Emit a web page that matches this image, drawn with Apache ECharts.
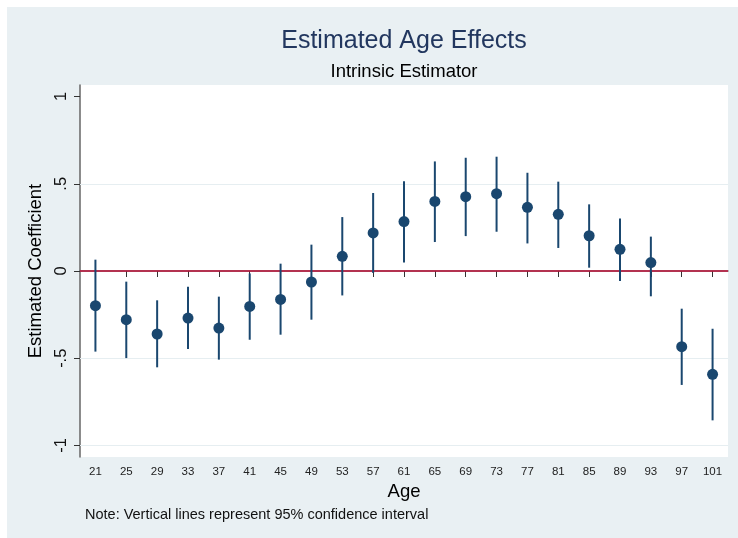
<!DOCTYPE html>
<html>
<head>
<meta charset="utf-8">
<script src="https://cdn.jsdelivr.net/npm/echarts@6/dist/echarts.min.js"></script>
<style>
html,body{margin:0;padding:0;background:#fff;}
#chart{width:738px;height:538px;}
</style>
</head>
<body>
<div id="chart"></div>
<script>
const ages = ['21','25','29','33','37','41','45','49','53','57','61','65','69','73','77','81','85','89','93','97','101'];
const estimates = [-0.199,-0.279,-0.361,-0.270,-0.327,-0.203,-0.163,-0.063,0.084,0.218,0.283,0.399,0.426,0.443,0.365,0.325,0.202,0.124,0.048,-0.434,-0.592];
const ciUpper = [0.065,-0.061,-0.168,-0.090,-0.147,-0.014,0.042,0.151,0.309,0.447,0.514,0.628,0.649,0.655,0.563,0.512,0.382,0.301,0.197,-0.216,-0.331];
const ciLower = [-0.462,-0.499,-0.552,-0.447,-0.508,-0.394,-0.365,-0.279,-0.140,-0.011,0.049,0.166,0.200,0.225,0.158,0.132,0.019,-0.057,-0.145,-0.653,-0.856];
const yTicks = [-1,-0.5,0,0.5,1];
const gridValues = [-1,-0.5,0.5];

const FONT = '"Liberation Sans", Arial, sans-serif';
const NAVY = '#1a476f';

const chart = echarts.init(document.getElementById('chart'));
const fmt = v => {
  if (Math.abs(v) < 1e-9) return '0';
  let s = String(+v.toFixed(2));
  return s.replace(/^(-?)0\./, '$1.');
};

chart.setOption({
  animation: false,
  backgroundColor: '#ffffff',
  textStyle: { fontFamily: FONT },
  graphic: [
    { type: 'rect', z: -10, silent: true, shape: { x: 7, y: 7, width: 731, height: 531 }, style: { fill: '#e9f0f3' } },
    { type: 'text', left: 85, top: 507, style: { text: 'Note: Vertical lines represent 95% confidence interval', font: '14.5px ' + FONT, fill: '#111' } }
  ],
  title: [
    { text: 'Estimated Age Effects', left: 404, top: 29, textAlign: 'center', padding: 0,
      textStyle: { fontSize: 25, fontWeight: 'normal', color: '#22375f', fontFamily: FONT } },
    { text: 'Intrinsic Estimator', left: 404, top: 62, textAlign: 'center', padding: 0,
      textStyle: { fontSize: 18.5, fontWeight: 'normal', color: '#000', fontFamily: FONT } }
  ],
  grid: { left: 80, right: 10, top: 85, bottom: 81, show: true, backgroundColor: '#ffffff', borderWidth: 0 },
  xAxis: {
    type: 'category',
    data: ages,
    boundaryGap: true,
    name: 'Age',
    nameLocation: 'middle',
    nameGap: 25,
    nameTextStyle: { fontSize: 18.5, color: '#000', fontFamily: FONT },
    axisLine: { show: true, lineStyle: { color: '#666', width: 1.5 } },
    axisTick: { show: true, alignWithLabel: true, length: 6, lineStyle: { color: '#333' } },
    axisLabel: { fontSize: 11.5, color: '#222', margin: 9, interval: 0 },
    splitLine: { show: false }
  },
  yAxis: {
    type: 'value',
    min: -1.066,
    max: 1.066,
    name: 'Estimated Coefficient',
    nameLocation: 'middle',
    nameGap: 32,
    nameTextStyle: { fontSize: 18.5, color: '#000', fontFamily: FONT },
    axisLine: { show: true, lineStyle: { color: '#666', width: 1.5 } },
    axisTick: { show: true, length: 6, lineStyle: { color: '#333' }, customValues: yTicks },
    axisLabel: { fontSize: 16.5, color: '#111', rotate: 90, margin: 10, customValues: yTicks, formatter: fmt },
    splitLine: { show: false }
  },
  series: [
    {
      type: 'custom',
      name: 'CI',
      z: 3,
      data: ages.map((a, i) => [i, ciLower[i], ciUpper[i]]),
      encode: { x: 0, y: [1, 2] },
      renderItem: function (params, api) {
        const p1 = api.coord([api.value(0), api.value(1)]);
        const p2 = api.coord([api.value(0), api.value(2)]);
        return { type: 'line', shape: { x1: p1[0], y1: p1[1], x2: p2[0], y2: p2[1] },
          style: { stroke: NAVY, lineWidth: 2 } };
      },
      markLine: {
        silent: true, symbol: 'none', label: { show: false }, z: 1,
        data: gridValues.map(v => ({ yAxis: v, lineStyle: { color: '#e6eef1', width: 1.2, type: 'solid' } }))
          .concat([{ yAxis: 0, lineStyle: { color: '#c0143c', width: 1.5, type: 'solid' } }])
      }
    },
    {
      type: 'scatter',
      name: 'Estimate',
      z: 4,
      data: ages.map((a, i) => [i, estimates[i]]),
      symbol: 'circle',
      symbolSize: 11,
      itemStyle: { color: NAVY, opacity: 1 }
    }
  ]
});
</script>
</body>
</html>
